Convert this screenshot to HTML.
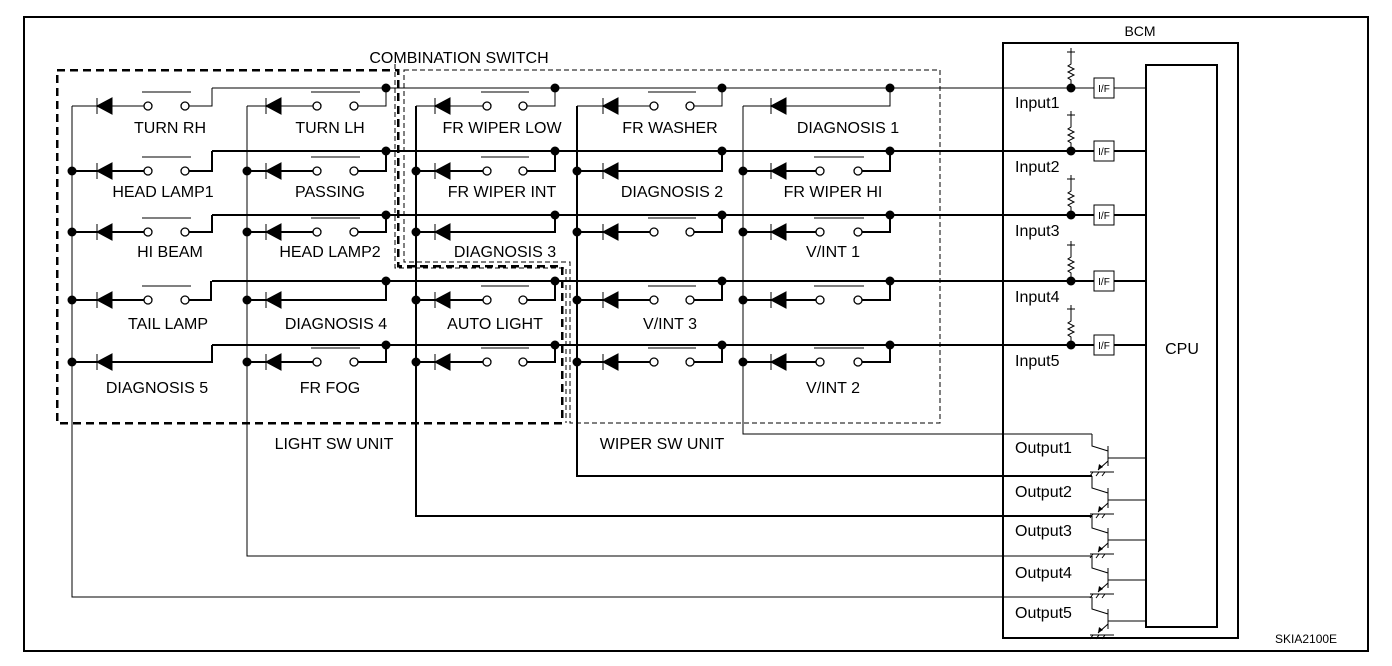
<!DOCTYPE html>
<html><head><meta charset="utf-8"><style>
html,body{margin:0;padding:0;background:#fff}
svg{display:block}
text{font-family:"Liberation Sans Narrow","Liberation Sans",sans-serif;font-size:16px;fill:#000}
.w{fill:none;stroke:#000;stroke-width:2;shape-rendering:crispEdges}
.t{fill:none;stroke:#000;stroke-width:1;shape-rendering:crispEdges}
.d{fill:#000;stroke:#000;stroke-width:1}
.c{fill:#fff;stroke:#000;stroke-width:1.3}
</style></head><body>
<svg width="1392" height="666" viewBox="0 0 1392 666" xmlns="http://www.w3.org/2000/svg">
<rect x="24" y="17" width="1344" height="634" fill="none" stroke="#000" stroke-width="2" shape-rendering="crispEdges"/>

<path d="M57 70 H398 V266 H562 V423 H57 Z" fill="none" stroke="#000" stroke-width="2.5" stroke-dasharray="8 5" shape-rendering="crispEdges"/>
<path d="M404 70 H940 V423 H570 V262 H404 Z" fill="none" stroke="#000" stroke-width="1" stroke-dasharray="5 3" shape-rendering="crispEdges"/>
<path d="M395 64 V268 H566 V423" fill="none" stroke="#000" stroke-width="1" stroke-dasharray="5 3" shape-rendering="crispEdges"/>
<text x="459" y="63" text-anchor="middle">COMBINATION SWITCH</text>
<text x="334" y="449" text-anchor="middle">LIGHT SW UNIT</text>
<text x="662" y="449" text-anchor="middle">WIPER SW UNIT</text>

<path class="t" d="M72 106 V597 H1092"/>
<path class="t" d="M247 106 V556 H1092"/>
<path class="w" d="M416 106 V516 H1092"/>
<path class="w" d="M577 106 V476 H1092"/>
<path class="t" d="M743 106 V434 H1092"/>

<path class="t" d="M212 88 H1094 M1114 88 H1146"/>
<path class="w" d="M212 151 H1094 M1114 151 H1146"/>
<path class="w" d="M212 215 H1094 M1114 215 H1146"/>
<path class="w" d="M212 281 H1094 M1114 281 H1146"/>
<path class="w" d="M212 345 H1094 M1114 345 H1146"/>

<!-- ROW 1 -->
<path class="t" d="M72 106 H97 M112 106 H144 M189 106 H212 V88"/>
<path class="t" d="M247 106 H266 M281 106 H313 M358 106 H386 V88"/>
<path class="t" d="M416 106 H435 M450 106 H483 M527 106 H555 V88"/>
<path class="t" d="M577 106 H603 M618 106 H650 M694 106 H722 V88"/>
<path class="t" d="M743 106 H771 M786 106 H890 V88"/>
<path class="d" d="M97 106 L112 98 L112 114 Z M97 98 V114 M266 106 L281 98 L281 114 Z M266 98 V114 M435 106 L450 98 L450 114 Z M435 98 V114 M603 106 L618 98 L618 114 Z M603 98 V114 M771 106 L786 98 L786 114 Z M771 98 V114"/>
<path class="t" d="M142 92 H191 M311 92 H360 M481 92 H529 M648 92 H696"/>
<circle class="c" cx="148" cy="106" r="4"/><circle class="c" cx="185" cy="106" r="4"/>
<circle class="c" cx="317" cy="106" r="4"/><circle class="c" cx="354" cy="106" r="4"/>
<circle class="c" cx="487" cy="106" r="4"/><circle class="c" cx="523" cy="106" r="4"/>
<circle class="c" cx="654" cy="106" r="4"/><circle class="c" cx="690" cy="106" r="4"/>
<text x="170" y="133" text-anchor="middle">TURN RH</text>
<text x="330" y="133" text-anchor="middle">TURN LH</text>
<text x="502" y="133" text-anchor="middle">FR WIPER LOW</text>
<text x="670" y="133" text-anchor="middle">FR WASHER</text>
<text x="848" y="133" text-anchor="middle">DIAGNOSIS 1</text>

<!-- ROW 2 -->
<path class="w" d="M72 171 H97 M112 171 H144 M189 171 H212 V151"/>
<path class="w" d="M247 171 H266 M281 171 H313 M358 171 H386 V151"/>
<path class="w" d="M416 171 H435 M450 171 H483 M527 171 H555 V151"/>
<path class="w" d="M577 171 H603 M618 171 H722 V151"/>
<path class="w" d="M743 171 H771 M786 171 H816 M862 171 H890 V151"/>
<path class="d" d="M97 171 L112 163 L112 179 Z M97 163 V179 M266 171 L281 163 L281 179 Z M266 163 V179 M435 171 L450 163 L450 179 Z M435 163 V179 M603 171 L618 163 L618 179 Z M603 163 V179 M771 171 L786 163 L786 179 Z M771 163 V179"/>
<path class="t" d="M142 157 H191 M311 157 H360 M481 157 H529 M814 157 H864"/>
<circle class="c" cx="148" cy="171" r="4"/><circle class="c" cx="185" cy="171" r="4"/>
<circle class="c" cx="317" cy="171" r="4"/><circle class="c" cx="354" cy="171" r="4"/>
<circle class="c" cx="487" cy="171" r="4"/><circle class="c" cx="523" cy="171" r="4"/>
<circle class="c" cx="820" cy="171" r="4"/><circle class="c" cx="858" cy="171" r="4"/>
<text x="163" y="197" text-anchor="middle">HEAD LAMP1</text>
<text x="330" y="197" text-anchor="middle">PASSING</text>
<text x="502" y="197" text-anchor="middle">FR WIPER INT</text>
<text x="672" y="197" text-anchor="middle">DIAGNOSIS 2</text>
<text x="833" y="197" text-anchor="middle">FR WIPER HI</text>

<!-- ROW 3 -->
<path class="w" d="M72 232 H97 M112 232 H144 M189 232 H212 V215"/>
<path class="w" d="M247 232 H266 M281 232 H313 M358 232 H386 V215"/>
<path class="w" d="M416 232 H435 M450 232 H555 V215"/>
<path class="w" d="M577 232 H603 M618 232 H650 M694 232 H722 V215"/>
<path class="w" d="M743 232 H771 M786 232 H816 M862 232 H890 V215"/>
<path class="d" d="M97 232 L112 224 L112 240 Z M97 224 V240 M266 232 L281 224 L281 240 Z M266 224 V240 M435 232 L450 224 L450 240 Z M435 224 V240 M603 232 L618 224 L618 240 Z M603 224 V240 M771 232 L786 224 L786 240 Z M771 224 V240"/>
<path class="t" d="M142 218 H191 M311 218 H360 M648 218 H696 M814 218 H864"/>
<circle class="c" cx="148" cy="232" r="4"/><circle class="c" cx="185" cy="232" r="4"/>
<circle class="c" cx="317" cy="232" r="4"/><circle class="c" cx="354" cy="232" r="4"/>
<circle class="c" cx="654" cy="232" r="4"/><circle class="c" cx="690" cy="232" r="4"/>
<circle class="c" cx="820" cy="232" r="4"/><circle class="c" cx="858" cy="232" r="4"/>
<text x="170" y="257" text-anchor="middle">HI BEAM</text>
<text x="330" y="257" text-anchor="middle">HEAD LAMP2</text>
<text x="505" y="257" text-anchor="middle">DIAGNOSIS 3</text>
<text x="833" y="257" text-anchor="middle">V/INT 1</text>

<!-- ROW 4 -->
<path class="w" d="M72 300 H97 M112 300 H144 M189 300 H211 V281"/>
<path class="w" d="M247 300 H266 M281 300 H386 V281"/>
<path class="w" d="M416 300 H435 M450 300 H483 M527 300 H555 V281"/>
<path class="w" d="M577 300 H603 M618 300 H650 M694 300 H722 V281"/>
<path class="w" d="M743 300 H771 M786 300 H816 M862 300 H890 V281"/>
<path class="d" d="M97 300 L112 292 L112 308 Z M97 292 V308 M266 300 L281 292 L281 308 Z M266 292 V308 M435 300 L450 292 L450 308 Z M435 292 V308 M603 300 L618 292 L618 308 Z M603 292 V308 M771 300 L786 292 L786 308 Z M771 292 V308"/>
<path class="t" d="M142 286 H191 M481 286 H529 M648 286 H696 M814 286 H864"/>
<circle class="c" cx="148" cy="300" r="4"/><circle class="c" cx="185" cy="300" r="4"/>
<circle class="c" cx="487" cy="300" r="4"/><circle class="c" cx="523" cy="300" r="4"/>
<circle class="c" cx="654" cy="300" r="4"/><circle class="c" cx="690" cy="300" r="4"/>
<circle class="c" cx="820" cy="300" r="4"/><circle class="c" cx="858" cy="300" r="4"/>
<text x="168" y="329" text-anchor="middle">TAIL LAMP</text>
<text x="336" y="329" text-anchor="middle">DIAGNOSIS 4</text>
<text x="495" y="329" text-anchor="middle">AUTO LIGHT</text>
<text x="670" y="329" text-anchor="middle">V/INT 3</text>

<!-- ROW 5 -->
<path class="w" d="M72 362 H97 M112 362 H212 V345"/>
<path class="w" d="M247 362 H266 M281 362 H313 M358 362 H386 V345"/>
<path class="w" d="M416 362 H435 M450 362 H483 M527 362 H555 V345"/>
<path class="w" d="M577 362 H603 M618 362 H650 M694 362 H722 V345"/>
<path class="w" d="M743 362 H771 M786 362 H816 M862 362 H890 V345"/>
<path class="d" d="M97 362 L112 354 L112 370 Z M97 354 V370 M266 362 L281 354 L281 370 Z M266 354 V370 M435 362 L450 354 L450 370 Z M435 354 V370 M603 362 L618 354 L618 370 Z M603 354 V370 M771 362 L786 354 L786 370 Z M771 354 V370"/>
<path class="t" d="M311 348 H360 M481 348 H529 M648 348 H696 M814 348 H864"/>
<circle class="c" cx="317" cy="362" r="4"/><circle class="c" cx="354" cy="362" r="4"/>
<circle class="c" cx="487" cy="362" r="4"/><circle class="c" cx="523" cy="362" r="4"/>
<circle class="c" cx="654" cy="362" r="4"/><circle class="c" cx="690" cy="362" r="4"/>
<circle class="c" cx="820" cy="362" r="4"/><circle class="c" cx="858" cy="362" r="4"/>
<text x="157" y="393" text-anchor="middle">DIAGNOSIS 5</text>
<text x="330" y="393" text-anchor="middle">FR FOG</text>
<text x="833" y="393" text-anchor="middle">V/INT 2</text>

<g fill="#000">
<circle cx="72" cy="171" r="4.5"/><circle cx="72" cy="232" r="4.5"/><circle cx="72" cy="300" r="4.5"/><circle cx="72" cy="362" r="4.5"/>
<circle cx="247" cy="171" r="4.5"/><circle cx="247" cy="232" r="4.5"/><circle cx="247" cy="300" r="4.5"/><circle cx="247" cy="362" r="4.5"/>
<circle cx="416" cy="171" r="4.5"/><circle cx="416" cy="232" r="4.5"/><circle cx="416" cy="300" r="4.5"/><circle cx="416" cy="362" r="4.5"/>
<circle cx="577" cy="171" r="4.5"/><circle cx="577" cy="232" r="4.5"/><circle cx="577" cy="300" r="4.5"/><circle cx="577" cy="362" r="4.5"/>
<circle cx="743" cy="171" r="4.5"/><circle cx="743" cy="232" r="4.5"/><circle cx="743" cy="300" r="4.5"/><circle cx="743" cy="362" r="4.5"/>
<circle cx="386" cy="88" r="4.5"/><circle cx="555" cy="88" r="4.5"/><circle cx="722" cy="88" r="4.5"/><circle cx="890" cy="88" r="4.5"/><circle cx="1071" cy="88" r="4.5"/>
<circle cx="386" cy="151" r="4.5"/><circle cx="555" cy="151" r="4.5"/><circle cx="722" cy="151" r="4.5"/><circle cx="890" cy="151" r="4.5"/><circle cx="1071" cy="151" r="4.5"/>
<circle cx="386" cy="215" r="4.5"/><circle cx="555" cy="215" r="4.5"/><circle cx="722" cy="215" r="4.5"/><circle cx="890" cy="215" r="4.5"/><circle cx="1071" cy="215" r="4.5"/>
<circle cx="386" cy="281" r="4.5"/><circle cx="555" cy="281" r="4.5"/><circle cx="722" cy="281" r="4.5"/><circle cx="890" cy="281" r="4.5"/><circle cx="1071" cy="281" r="4.5"/>
<circle cx="386" cy="345" r="4.5"/><circle cx="555" cy="345" r="4.5"/><circle cx="722" cy="345" r="4.5"/><circle cx="890" cy="345" r="4.5"/><circle cx="1071" cy="345" r="4.5"/>
</g>

<rect x="1003" y="43" width="235" height="595" fill="none" stroke="#000" stroke-width="2" shape-rendering="crispEdges"/>
<rect x="1146" y="65" width="71" height="562" fill="none" stroke="#000" stroke-width="2" shape-rendering="crispEdges"/>
<text x="1140" y="36" text-anchor="middle" style="font-size:14px">BCM</text>
<text x="1182" y="354" text-anchor="middle">CPU</text>

<g fill="none" stroke="#000" stroke-width="1">
<path d="M1067 52 H1075 M1071 48 V56 M1071 56 V64 L1068 66 L1074 69 L1068 72 L1074 75 L1068 78 L1071 80 V88"/>
<path d="M1067 115 H1075 M1071 111 V119 M1071 119 V127 L1068 129 L1074 132 L1068 135 L1074 138 L1068 141 L1071 143 V151"/>
<path d="M1067 179 H1075 M1071 175 V183 M1071 183 V191 L1068 193 L1074 196 L1068 199 L1074 202 L1068 205 L1071 207 V215"/>
<path d="M1067 245 H1075 M1071 241 V249 M1071 249 V257 L1068 259 L1074 262 L1068 265 L1074 268 L1068 271 L1071 273 V281"/>
<path d="M1067 309 H1075 M1071 305 V313 M1071 313 V321 L1068 323 L1074 326 L1068 329 L1074 332 L1068 335 L1071 337 V345"/>
</g>
<g fill="#fff" stroke="#000" stroke-width="1.2" shape-rendering="crispEdges">
<rect x="1094" y="78" width="20" height="20"/>
<rect x="1094" y="141" width="20" height="20"/>
<rect x="1094" y="205" width="20" height="20"/>
<rect x="1094" y="271" width="20" height="20"/>
<rect x="1094" y="335" width="20" height="20"/>
</g>
<g text-anchor="middle">
<text x="1104" y="92" style="font-size:10px">I/F</text>
<text x="1104" y="155" style="font-size:10px">I/F</text>
<text x="1104" y="219" style="font-size:10px">I/F</text>
<text x="1104" y="285" style="font-size:10px">I/F</text>
<text x="1104" y="349" style="font-size:10px">I/F</text>
</g>
<text x="1015" y="108">Input1</text>
<text x="1015" y="172">Input2</text>
<text x="1015" y="236">Input3</text>
<text x="1015" y="302">Input4</text>
<text x="1015" y="366">Input5</text>

<g fill="none" stroke="#000" stroke-width="1">
<path d="M1092 434 V446 L1108 451 M1108 446 V466 M1108 458 H1146 M1108 461 L1098 470 M1090 472 H1114 M1093 472 l-3 4 M1099 472 l-3 4 M1105 472 l-3 4"/>
<path d="M1092 476 V488 L1108 493 M1108 488 V508 M1108 500 H1146 M1108 503 L1098 512 M1090 514 H1114 M1093 514 l-3 4 M1099 514 l-3 4 M1105 514 l-3 4"/>
<path d="M1092 516 V528 L1108 533 M1108 528 V548 M1108 540 H1146 M1108 543 L1098 552 M1090 554 H1114 M1093 554 l-3 4 M1099 554 l-3 4 M1105 554 l-3 4"/>
<path d="M1092 556 V568 L1108 573 M1108 568 V588 M1108 580 H1146 M1108 583 L1098 592 M1090 594 H1114 M1093 594 l-3 4 M1099 594 l-3 4 M1105 594 l-3 4"/>
<path d="M1092 597 V609 L1108 614 M1108 609 V629 M1108 621 H1146 M1108 624 L1098 633 M1090 635 H1114 M1093 635 l-3 4 M1099 635 l-3 4 M1105 635 l-3 4"/>
</g>
<g fill="#000">
<path d="M1098 470 L1099 464 L1103 467 Z"/>
<path d="M1098 512 L1099 506 L1103 509 Z"/>
<path d="M1098 552 L1099 546 L1103 549 Z"/>
<path d="M1098 592 L1099 586 L1103 589 Z"/>
<path d="M1098 633 L1099 627 L1103 630 Z"/>
</g>
<text x="1015" y="453">Output1</text>
<text x="1015" y="497">Output2</text>
<text x="1015" y="536">Output3</text>
<text x="1015" y="578">Output4</text>
<text x="1015" y="618">Output5</text>

<text x="1275" y="643" style="font-size:12px">SKIA2100E</text>
</svg>
</body></html>
